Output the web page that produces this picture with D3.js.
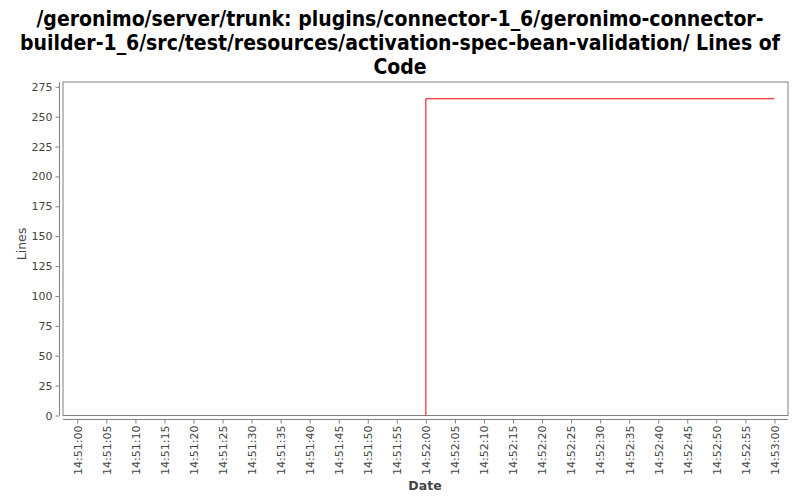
<!DOCTYPE html>
<html><head><meta charset="utf-8">
<script src="https://cdn.jsdelivr.net/npm/d3@7"></script>
<style>body{margin:0;background:#fff}</style>
</head><body>
<svg id="c" width="800" height="500"></svg>
<script>
const titleLines = ["/geronimo/server/trunk: plugins/connector-1_6/geronimo-connector-",
  "builder-1_6/src/test/resources/activation-spec-bean-validation/ Lines of", "Code"];
const dates = ["14:52:00", "14:53:00"];
const values = [265, 265];
const yTicks = [0,25,50,75,100,125,150,175,200,225,250,275];
const xTickLabels = ["14:51:00","14:51:05","14:51:10","14:51:15","14:51:20","14:51:25","14:51:30","14:51:35","14:51:40","14:51:45","14:51:50","14:51:55","14:52:00","14:52:05","14:52:10","14:52:15","14:52:20","14:52:25","14:52:30","14:52:35","14:52:40","14:52:45","14:52:50","14:52:55","14:53:00"];

const svg = d3.select("#c");
const parse = d3.timeParse("%H:%M:%S");
const L = 63, R = 788, T = 82, B = 415.5;
const t0 = parse("14:51:00"), t1 = parse("14:53:00");
const x = d3.scaleTime().domain([new Date(+t0 - 2460), new Date(+t1 + 2340)]).range([L, R]);
const y = d3.scaleLinear().domain([0, 279]).range([B, T]);

// title
svg.append("g").selectAll("text").data(titleLines).join("text")
  .attr("x", 400).attr("y", (d,i)=>26+i*24).attr("text-anchor","middle")
  .attr("font-family","'DejaVu Sans Condensed', 'DejaVu Sans'").attr("font-stretch","condensed")
  .attr("font-weight","bold").attr("font-size",21).attr("fill","#000").text(d=>d);

// plot background/frame
svg.append("rect").attr("x",L).attr("y",T).attr("width",R-L).attr("height",B-T)
  .attr("fill","#fff").attr("stroke","#808080").attr("stroke-width",1);

// y axis
const yAxis = d3.axisLeft(y).tickValues(yTicks).tickSize(4).tickPadding(3);
const gy = svg.append("g").attr("transform",`translate(${L-3.5},0)`).call(yAxis);
gy.select(".domain").attr("stroke","#808080").attr("d",`M-0,${T}V${B}`);
gy.selectAll(".tick line").attr("stroke","#808080");
gy.selectAll("text").attr("font-family","'DejaVu Sans'").attr("font-size",11).attr("fill","#444");

// x axis
const xAxis = d3.axisBottom(x).tickValues(xTickLabels.map(parse)).tickFormat(d3.timeFormat("%H:%M:%S")).tickSize(4).tickPadding(3);
const gx = svg.append("g").attr("transform",`translate(0,${B+4})`).call(xAxis);
gx.select(".domain").attr("stroke","#808080").attr("d",`M${L},0H${R}`);
gx.selectAll(".tick line").attr("stroke","#808080");
gx.selectAll("text").attr("font-family","'DejaVu Sans'").attr("font-size",11).attr("fill","#444")
  .attr("transform","rotate(-90)").attr("text-anchor","end").attr("x",-6).attr("y",0).attr("dy","0.35em");

// axis labels
svg.append("text").attr("transform","translate(26,244) rotate(-90)").attr("text-anchor","middle")
  .attr("font-family","'DejaVu Sans'").attr("font-size",12.5).attr("fill","#444").text("Lines");
svg.append("text").attr("x",425).attr("y",490).attr("text-anchor","middle")
  .attr("font-family","'DejaVu Sans'").attr("font-weight","bold").attr("font-size",12.5).attr("fill","#444").text("Date");

// line (step from 0)
const pts = [{t: parse(dates[0]), v: 0}].concat(dates.map((d,i)=>({t: parse(d), v: values[i]})));
const line = d3.line().x(d=>x(d.t)).y(d=>y(d.v));
svg.append("path").datum(pts).attr("d", line).attr("fill","none").attr("stroke","#ff0000").attr("stroke-width",1);
</script>
</body></html>
